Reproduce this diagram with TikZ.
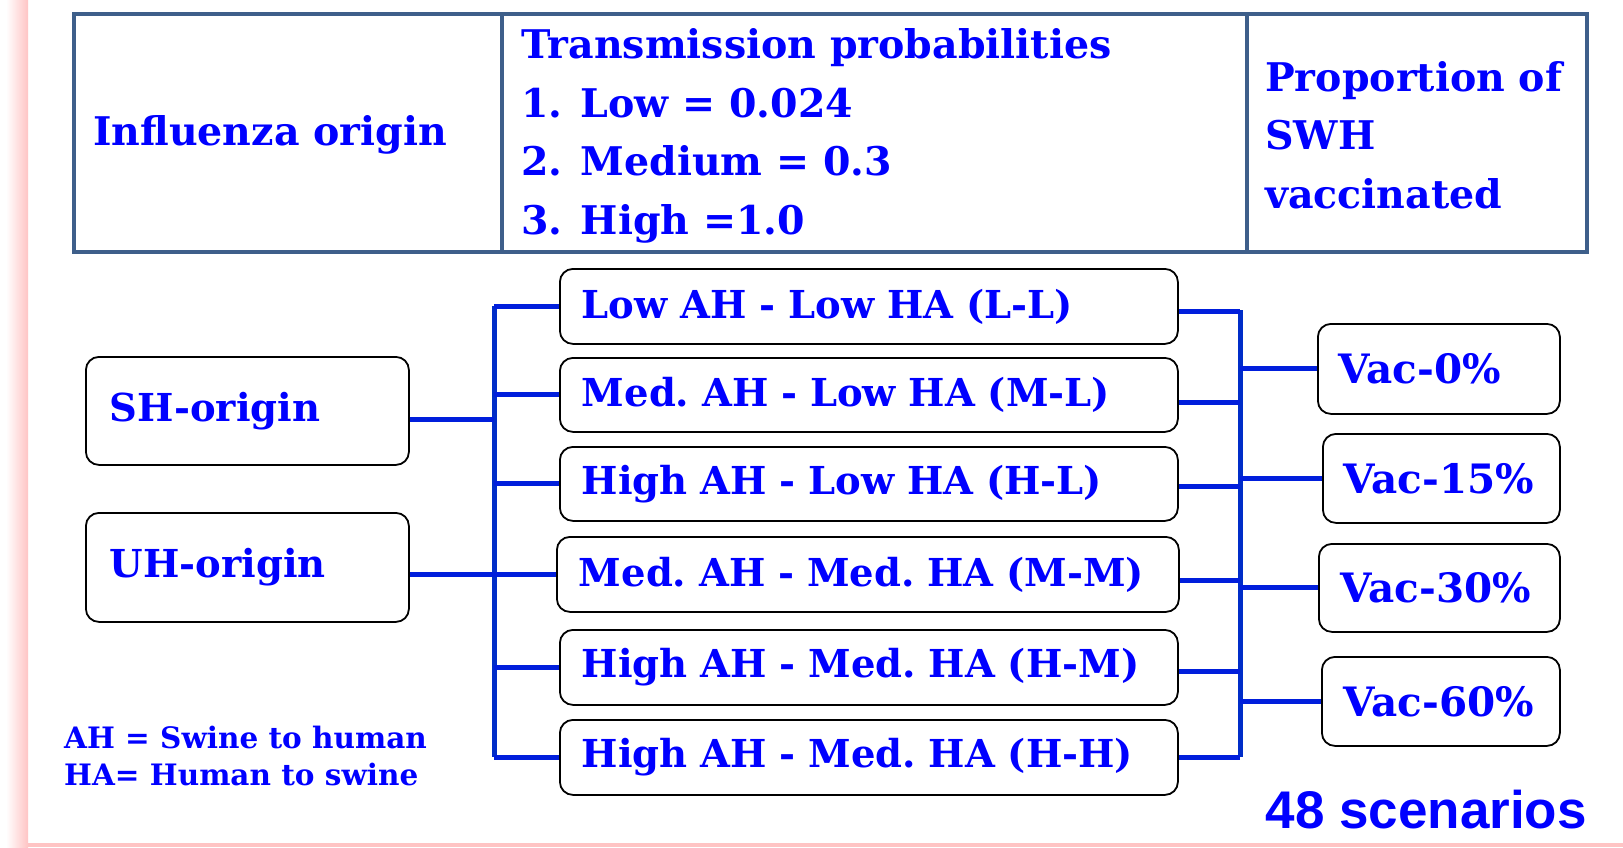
\documentclass[tikz,border=0pt]{standalone}
\usepackage{fontspec}
\newfontfamily\bk{DejaVu Serif}
\newfontfamily\arialf{Liberation Sans}
\definecolor{vblue}{RGB}{0,0,255}
\definecolor{lblue}{RGB}{0,30,220}
\definecolor{bblue}{RGB}{0,45,200}
\definecolor{tblue}{RGB}{62,95,138}
\definecolor{pinkb}{RGB}{255,196,196}
\tikzset{
  txt/.style={text=vblue, font=\bk\bfseries\fontsize{39.5}{58.5}\selectfont, inner sep=0pt, align=left},
  legtxt/.style={text=vblue, font=\bk\bfseries\fontsize{29.5}{37}\selectfont, inner sep=0pt, align=left},
  cell/.style={draw=tblue, line width=4pt, inner sep=0pt, anchor=north west},
  rbox/.style={draw=black, line width=1.8pt, rounded corners=13pt, fill=white, inner sep=0pt,
     anchor=north west, text=vblue, font=\bk\bfseries\frenchspacing\fontsize{38.5}{44}\selectfont, align=left},
  vbox/.style={rbox, font=\bk\bfseries\fontsize{40.5}{44}\selectfont},
  conn/.style={draw=lblue, line width=5pt},
  bus/.style={draw=bblue, line width=5pt}
}
\begin{document}
\begin{tikzpicture}[x=1pt,y=-1pt]
\useasboundingbox (0,0) rectangle (1623,847);
\fill[white] (0,0) rectangle (1623,847);
\shade[left color=white, right color=pinkb] (6,0) rectangle (28,847);
\fill[pinkb] (28,843) rectangle (1623,847);

% header table
\node[cell, minimum width=428, minimum height=238] (c1) at (72,12) {};
\node[cell, minimum width=745, minimum height=238] (c2) at (500,12) {};
\node[cell, minimum width=340, minimum height=238] (c3) at (1245,12) {};
\node[txt, anchor=west] (t1) at (93,135) {Influenza origin};
\node[txt, anchor=west] (t2) at (521,136) {Transmission probabilities\\1. Low = 0.024\\2. Medium = 0.3\\3. High =1.0};
\node[txt, anchor=west] (t3) at (1265,135) {Proportion of\\SWH\\vaccinated};

% origin boxes
\node[rbox, minimum width=323, minimum height=108, text width=275] (sh) at (85,356) {SH-origin};
\node[rbox, minimum width=323, minimum height=109, text width=275] (uh) at (85,512) {UH-origin};

% transmission boxes
\node[rbox, minimum width=618, minimum height=75, text width=574] (r1) at (559,268) {Low AH - Low HA (L-L)};
\node[rbox, minimum width=618, minimum height=74, text width=574] (r2) at (559,357) {Med. AH - Low HA (M-L)};
\node[rbox, minimum width=618, minimum height=74, text width=574] (r3) at (559,446) {High AH - Low HA (H-L)};
\node[rbox, minimum width=622, minimum height=75, text width=578] (r4) at (556,536) {Med. AH - Med. HA (M-M)};
\node[rbox, minimum width=618, minimum height=75, text width=574] (r5) at (559,629) {High AH - Med. HA (H-M)};
\node[rbox, minimum width=618, minimum height=75, text width=574] (r6) at (559,719) {High AH - Med. HA (H-H)};

% vaccination boxes
\node[vbox, minimum width=242, minimum height=90, text width=200] (v1) at (1317,323) {Vac-0\%};
\node[vbox, minimum width=237, minimum height=89, text width=195] (v2) at (1322,433) {Vac-15\%};
\node[vbox, minimum width=241, minimum height=88, text width=197] (v3) at (1318,543) {Vac-30\%};
\node[vbox, minimum width=238, minimum height=89, text width=194] (v4) at (1321,656) {Vac-60\%};

% legend and total
\node[legtxt, anchor=west] (leg) at (64,756) {AH = Swine to human\\HA= Human to swine};
\node[text=vblue, font=\arialf\bfseries\fontsize{53}{60}\selectfont, inner sep=0pt, anchor=east] (tot) at (1587,810) {48 scenarios};

% left bus
\coordinate (lb) at (494,305);
\draw[bus] (r1.west -| lb) -- (r6.west -| lb);
\foreach \r in {r1,r2,r3,r4,r5,r6} \draw[conn] (\r.west -| lb) -- (\r.west);
\draw[conn] ([yshift=-9pt]sh.east) -- ([yshift=-9pt]sh.east -| lb);
\draw[conn] (uh.east |- r4.west) -- (r4.west);

% right bus
\coordinate (rb) at (1240,310);
\draw[bus] (rb) -- (rb |- r6.east);
\draw[conn] ([yshift=-5pt]r1.east) -- ([yshift=-5pt]r1.east -| rb);
\draw[conn] ([yshift=-8pt]r2.east) -- ([yshift=-8pt]r2.east -| rb);
\draw[conn] ([yshift=-3pt]r3.east) -- ([yshift=-3pt]r3.east -| rb);
\draw[conn] ([yshift=-6pt]r4.east) -- ([yshift=-6pt]r4.east -| rb);
\draw[conn] ([yshift=-4pt]r5.east) -- ([yshift=-4pt]r5.east -| rb);
\draw[conn] (r6.east) -- (r6.east -| rb);
\foreach \v in {v1,v2,v3,v4} \draw[conn] (\v.west -| rb) -- (\v.west);
\end{tikzpicture}
\end{document}
